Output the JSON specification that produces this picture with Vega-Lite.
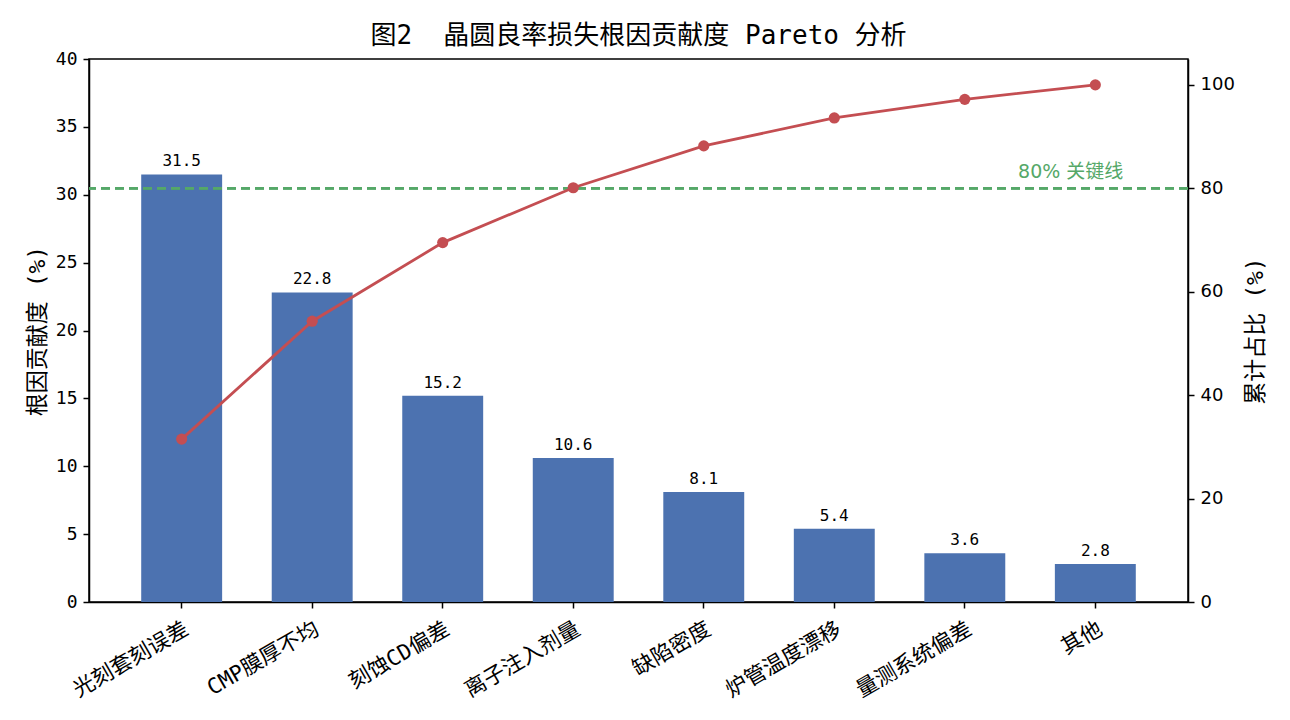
{
  "$schema": "https://vega.github.io/schema/vega-lite/v6.json",
  "description": "Pareto chart of wafer yield loss root causes.",
  "width": 1099,
  "height": 543,
  "autosize": {"type": "none"},
  "padding": {"left": 89, "top": 59, "right": 102, "bottom": 118},
  "title": {
    "text": "图2\u00a0\u00a0晶圆良率损失根因贡献度 Pareto 分析",
    "font": "DejaVu Sans Mono, Noto Sans CJK SC",
    "fontSize": 26,
    "fontWeight": "normal",
    "color": "black",
    "anchor": "middle",
    "offset": 1
  },
  "config": {
    "view": {"stroke": "black", "strokeWidth": 1.5},
    "axis": {
      "grid": false,
      "domainColor": "black",
      "domainWidth": 1.5,
      "tickColor": "black",
      "tickWidth": 1.5,
      "tickSize": 6,
      "labelColor": "black",
      "labelFontSize": 18,
      "titleColor": "black",
      "titleFontSize": 23,
      "titleFontWeight": "normal",
      "titleFont": "DejaVu Sans Mono, Noto Sans CJK SC"
    }
  },
  "data": {
    "values": [
      {"cause": "光刻套刻误差", "share": 31.5, "cum": 31.5},
      {"cause": "CMP膜厚不均", "share": 22.8, "cum": 54.3},
      {"cause": "刻蚀CD偏差", "share": 15.2, "cum": 69.5},
      {"cause": "离子注入剂量", "share": 10.6, "cum": 80.1},
      {"cause": "缺陷密度", "share": 8.1, "cum": 88.2},
      {"cause": "炉管温度漂移", "share": 5.4, "cum": 93.6},
      {"cause": "量测系统偏差", "share": 3.6, "cum": 97.2},
      {"cause": "其他", "share": 2.8, "cum": 100.0}
    ]
  },
  "layer": [
    {
      "encoding": {
        "x": {
          "field": "cause",
          "type": "nominal",
          "sort": null,
          "scale": {"paddingInner": 0.38, "paddingOuter": 0.4},
          "axis": {
            "title": null,
            "labelAngle": -30,
            "labelAlign": "right",
            "labelBaseline": "top",
            "labelFont": "DejaVu Sans Mono, Noto Sans CJK SC",
            "labelFontSize": 21.5,
            "labelPadding": 10
          }
        },
        "y": {
          "field": "share",
          "type": "quantitative",
          "scale": {"domain": [0, 40], "nice": false},
          "axis": {
            "title": "根因贡献度 (%)",
            "values": [0, 5, 10, 15, 20, 25, 30, 35, 40],
            "labelFont": "DejaVu Sans Mono",
            "labelPadding": 6,
            "titlePadding": 6
          }
        }
      },
      "layer": [
        {"mark": {"type": "bar", "color": "#4C72B0"}},
        {
          "mark": {
            "type": "text",
            "baseline": "bottom",
            "dy": -5,
            "font": "DejaVu Sans Mono",
            "fontSize": 16,
            "color": "black"
          },
          "encoding": {"text": {"field": "share", "type": "quantitative", "format": ".1f"}}
        }
      ]
    },
    {
      "encoding": {
        "y": {
          "field": "cum",
          "type": "quantitative",
          "scale": {"domain": [0, 105], "nice": false},
          "axis": {
            "orient": "right",
            "title": "累计占比 (%)",
            "titleAngle": -90,
            "titleBaseline": "top",
            "values": [0, 20, 40, 60, 80, 100],
            "labelFont": "DejaVu Sans",
            "labelPadding": 6,
            "titlePadding": 10
          }
        }
      },
      "layer": [
        {
          "mark": {"type": "rule", "color": "#55A868", "strokeWidth": 2, "strokeDash": [9, 5]},
          "encoding": {
            "y": {"datum": 80, "type": "quantitative"}
          }
        },
        {
          "mark": {"type": "line", "color": "#C44E52", "strokeWidth": 2.8},
          "encoding": {
            "x": {"field": "cause", "type": "nominal", "sort": null}
          }
        },
        {
          "mark": {"type": "point", "filled": true, "color": "#C44E52", "size": 125, "opacity": 1},
          "encoding": {
            "x": {"field": "cause", "type": "nominal", "sort": null}
          }
        },
        {
          "data": {"values": [{"label": "80%\u00a0关键线", "cause": "其他", "level": 80}]},
          "mark": {
            "type": "text",
            "align": "right",
            "baseline": "bottom",
            "dx": 28,
            "dy": -6,
            "font": "DejaVu Sans, Noto Sans CJK SC",
            "fontSize": 19,
            "color": "#55A868"
          },
          "encoding": {
            "x": {"field": "cause", "type": "nominal", "sort": null},
            "y": {"field": "level", "type": "quantitative"},
            "text": {"field": "label"}
          }
        }
      ]
    }
  ],
  "resolve": {"scale": {"y": "independent"}}
}
